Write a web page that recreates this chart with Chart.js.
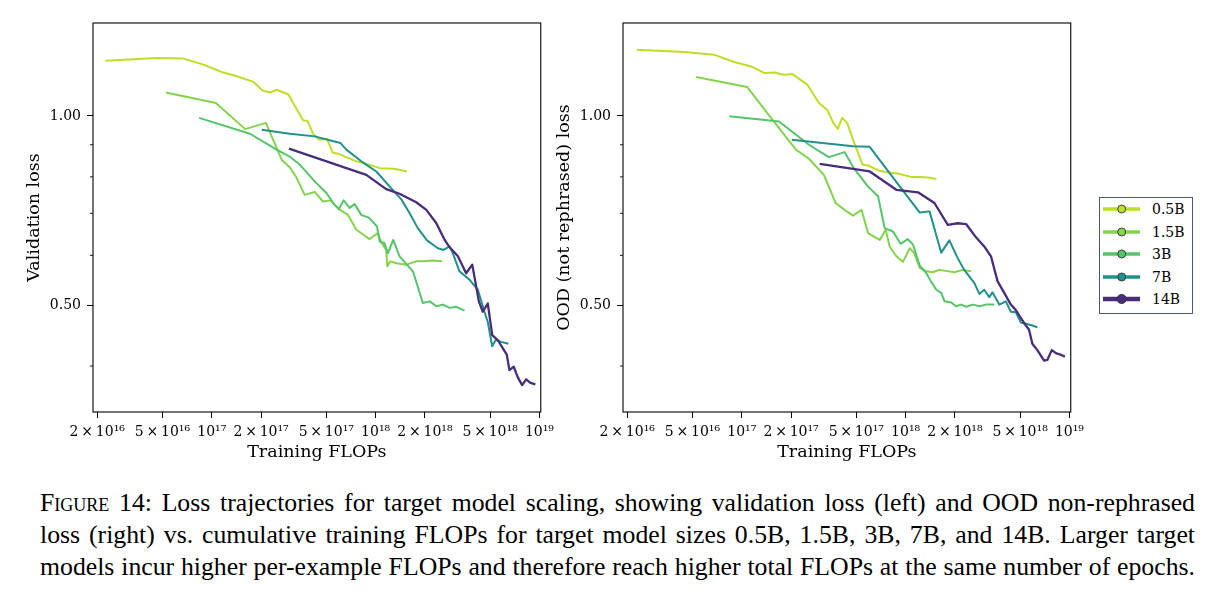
<!DOCTYPE html>
<html><head><meta charset="utf-8">
<script src="https://cdn.jsdelivr.net/npm/chart.js@4.4.1/dist/chart.umd.min.js"></script>
<style>
html,body{margin:0;padding:0;background:#fff;}
body{width:1219px;height:596px;position:relative;overflow:hidden;}
canvas{position:absolute;top:0;}
#c1{left:0;}
#c2{left:530px;}
#legend{position:absolute;left:1099px;top:197px;width:92px;height:115px;border:1px solid #4b5470;background:#fff;font-family:'DejaVu Serif';font-size:14px;color:#000;}
.row{position:absolute;left:0;width:92px;height:20px;}
.row svg{position:absolute;left:0;top:0;}
.row span{position:absolute;left:52px;top:0;line-height:20px;white-space:nowrap;}
#cap{position:absolute;left:40px;top:487px;width:1155px;font-family:'Liberation Serif';font-size:26.5px;line-height:32px;color:#000;}
.ln{text-align:justify;text-align-last:justify;white-space:nowrap;}
.sc{font-variant:small-caps;}
#probe{position:absolute;left:0;top:700px;font-family:'Liberation Serif';white-space:nowrap;visibility:hidden;}
</style></head><body>
<canvas id="c1" width="560" height="470"></canvas>
<canvas id="c2" width="560" height="470"></canvas>
<div id="legend"></div>
<div id="cap">
<div class="ln"><span class="sc">Figure</span> 14: Loss trajectories for target model scaling, showing validation loss (left) and OOD non-rephrased</div>
<div class="ln">loss (right) vs. cumulative training FLOPs for target model sizes 0.5B, 1.5B, 3B, 7B, and 14B. Larger target</div>
<div class="ln">models incur higher per-example FLOPs and therefore reach higher total FLOPs at the same number of epochs.</div>
</div>
<span id="probe"></span>
<script>
// ---- categories / series ----
const SERIES = ['0.5B', '1.5B', '3B', '7B', '14B'];
const COLORS = ['#bddf26', '#84d44b', '#54c568', '#21918c', '#472d7b'];

// ---- tick values / labels ----
const X_TICKS = [2e16, 5e16, 1e17, 2e17, 5e17, 1e18, 2e18, 5e18, 1e19];
const X_TICK_LABELS = ['2\u2009\u00d7\u200910\u00b9\u2076', '5\u2009\u00d7\u200910\u00b9\u2076', '10\u00b9\u2077', '2\u2009\u00d7\u200910\u00b9\u2077', '5\u2009\u00d7\u200910\u00b9\u2077', '10\u00b9\u2078', '2\u2009\u00d7\u200910\u00b9\u2078', '5\u2009\u00d7\u200910\u00b9\u2078', '10\u00b9\u2079'];
const Y_TICKS = [0.5, 1.0];
const Y_TICK_LABELS = ['0.50', '1.00'];
const Y_MINOR = [0.4, 0.6, 0.7, 0.8, 0.9];
const X_MIN = 1.884e16, X_MAX = 1.019e19;
const Y_MIN = 0.338, Y_MAX = 1.406;

// ---- Validation loss (left) ----
const v05F = [2.24e16, 4.62e16, 6.72e16, 8.90e16, 1.15e17, 1.36e17, 1.80e17, 2.04e17, 2.27e17, 2.49e17, 2.94e17, 3.22e17, 3.62e17, 3.83e17, 4.17e17, 4.51e17, 5.06e17, 5.46e17, 5.89e17, 7.63e17, 8.78e17, 1.06e18, 1.28e18, 1.40e18, 1.55e18];
const v05L = [1.224, 1.237, 1.234, 1.207, 1.175, 1.161, 1.133, 1.098, 1.090, 1.101, 1.082, 1.036, 0.984, 0.983, 0.936, 0.917, 0.919, 0.875, 0.871, 0.847, 0.839, 0.826, 0.824, 0.821, 0.816];
const v15F = [5.24e16, 1.06e17, 1.60e17, 2.14e17, 2.67e17, 2.99e17, 3.29e17, 3.69e17, 4.25e17, 4.77e17, 5.29e17, 5.97e17, 6.78e17, 7.63e17, 9.19e17, 1.03e18, 1.08e18, 1.16e18, 1.18e18, 1.23e18, 1.34e18, 1.54e18, 1.77e18, 1.94e18, 2.24e18, 2.55e18];
const v15L = [1.090, 1.049, 0.953, 0.975, 0.852, 0.829, 0.798, 0.749, 0.757, 0.731, 0.734, 0.711, 0.696, 0.659, 0.637, 0.651, 0.631, 0.612, 0.576, 0.587, 0.583, 0.580, 0.587, 0.587, 0.589, 0.587];
const v3F = [8.37e16, 1.71e17, 2.49e17, 2.99e17, 3.44e17, 4.25e17, 5.01e17, 5.62e17, 5.97e17, 6.38e17, 6.94e17, 7.45e17, 8.18e17, 9.10e17, 1.02e18, 1.06e18, 1.13e18, 1.19e18, 1.28e18, 1.40e18, 1.69e18, 1.81e18, 1.94e18, 2.14e18, 2.35e18, 2.57e18, 2.83e18, 3.11e18, 3.49e18];
const v3L = [0.993, 0.937, 0.884, 0.862, 0.837, 0.787, 0.754, 0.722, 0.711, 0.734, 0.714, 0.724, 0.696, 0.689, 0.667, 0.631, 0.628, 0.605, 0.635, 0.598, 0.566, 0.535, 0.504, 0.507, 0.498, 0.501, 0.495, 0.497, 0.490];
const v7F = [2.02e17, 2.99e17, 4.25e17, 6.09e17, 6.63e17, 8.18e17, 1.01e18, 1.22e18, 1.44e18, 1.61e18, 1.81e18, 2.06e18, 2.40e18, 2.60e18, 2.83e18, 2.96e18, 3.25e18, 3.74e18, 4.21e18, 4.62e18, 4.84e18, 5.15e18, 5.41e18, 5.84e18, 6.47e18];
const v7L = [0.951, 0.937, 0.928, 0.906, 0.884, 0.847, 0.816, 0.772, 0.736, 0.701, 0.663, 0.634, 0.616, 0.612, 0.620, 0.605, 0.566, 0.549, 0.529, 0.488, 0.470, 0.430, 0.440, 0.437, 0.434];
const v14F = [2.96e17, 8.78e17, 1.16e18, 1.40e18, 1.77e18, 2.04e18, 2.35e18, 2.64e18, 2.83e18, 3.18e18, 3.57e18, 3.89e18, 4.27e18, 4.51e18, 4.84e18, 5.15e18, 5.57e18, 5.97e18, 6.32e18, 6.56e18, 6.97e18, 7.37e18, 7.84e18, 8.30e18, 8.81e18, 9.45e18];
const v14L = [0.887, 0.806, 0.765, 0.752, 0.729, 0.709, 0.675, 0.635, 0.618, 0.598, 0.562, 0.580, 0.507, 0.488, 0.503, 0.448, 0.440, 0.427, 0.417, 0.394, 0.399, 0.384, 0.373, 0.381, 0.376, 0.374];

// ---- OOD (not rephrased) loss (right) ----
const o05F = [2.28e16, 4.47e16, 6.74e16, 9.00e16, 1.14e17, 1.37e17, 1.58e17, 1.81e17, 2.04e17, 2.51e17, 2.96e17, 3.32e17, 3.62e17, 3.86e17, 4.10e17, 4.40e17, 4.78e17, 5.13e17, 5.46e17, 5.90e17, 6.95e17, 7.81e17, 8.78e17, 1.08e18, 1.22e18, 1.37e18, 1.54e18];
const o05L = [1.275, 1.264, 1.252, 1.219, 1.199, 1.171, 1.173, 1.163, 1.166, 1.122, 1.049, 1.023, 0.975, 0.954, 0.993, 0.975, 0.917, 0.873, 0.837, 0.834, 0.818, 0.813, 0.811, 0.800, 0.800, 0.798, 0.794];
const o15F = [5.27e16, 1.08e17, 1.51e17, 2.14e17, 2.57e17, 3.17e17, 3.74e17, 4.30e17, 4.78e17, 5.38e17, 5.90e17, 6.95e17, 7.56e17, 7.99e17, 8.78e17, 9.63e17, 1.06e18, 1.13e18, 1.22e18, 1.34e18, 1.46e18, 1.61e18, 1.99e18, 2.23e18, 2.51e18];
const o15L = [1.154, 1.112, 0.993, 0.884, 0.855, 0.806, 0.727, 0.707, 0.694, 0.709, 0.651, 0.635, 0.659, 0.620, 0.598, 0.586, 0.616, 0.605, 0.573, 0.566, 0.564, 0.569, 0.564, 0.569, 0.566];
const o3F = [8.40e16, 1.69e17, 2.57e17, 3.40e17, 4.24e17, 4.83e17, 5.90e17, 6.79e17, 7.45e17, 8.37e17, 9.32e17, 1.03e18, 1.11e18, 1.22e18, 1.34e18, 1.43e18, 1.54e18, 1.65e18, 1.73e18, 1.90e18, 2.03e18, 2.18e18, 2.34e18, 2.57e18, 2.82e18, 3.09e18, 3.48e18];
const o3L = [0.999, 0.980, 0.900, 0.860, 0.876, 0.826, 0.772, 0.745, 0.663, 0.655, 0.626, 0.637, 0.624, 0.578, 0.562, 0.545, 0.529, 0.523, 0.507, 0.505, 0.498, 0.501, 0.497, 0.501, 0.498, 0.501, 0.501];
const o7F = [2.02e17, 4.78e17, 6.04e17, 7.99e17, 1.22e18, 1.40e18, 1.65e18, 1.85e18, 2.08e18, 2.28e18, 2.63e18, 2.82e18, 3.02e18, 3.24e18, 3.39e18, 3.73e18, 4.09e18, 4.39e18, 4.71e18, 5.05e18, 5.42e18, 5.94e18, 6.37e18];
const o7L = [0.917, 0.895, 0.893, 0.811, 0.702, 0.705, 0.606, 0.634, 0.594, 0.569, 0.542, 0.521, 0.529, 0.515, 0.524, 0.501, 0.507, 0.488, 0.487, 0.469, 0.467, 0.464, 0.461];
const o14F = [2.99e17, 6.04e17, 8.78e17, 1.19e18, 1.50e18, 1.81e18, 2.08e18, 2.34e18, 2.69e18, 3.02e18, 3.32e18, 3.64e18, 4.00e18, 4.39e18, 4.71e18, 5.05e18, 5.42e18, 5.67e18, 5.94e18, 6.37e18, 7.00e18, 7.33e18, 7.80e18, 8.32e18, 8.84e18, 9.39e18];
const o14L = [0.839, 0.816, 0.763, 0.756, 0.727, 0.671, 0.675, 0.673, 0.641, 0.620, 0.598, 0.546, 0.523, 0.501, 0.491, 0.477, 0.464, 0.457, 0.434, 0.424, 0.408, 0.409, 0.424, 0.419, 0.417, 0.414];

// ---- styles ----
const LINE_W = [2, 2, 2, 2, 2.3];
const FONT = 'DejaVu Serif';

const framePlugin = {
  id: 'frame',
  afterDraw(chart) {
    const {ctx, chartArea: a, scales: {y}} = chart;
    ctx.save();
    ctx.strokeStyle = '#000';
    ctx.lineWidth = 1.1;
    ctx.strokeRect(a.left, a.top, a.right - a.left, a.bottom - a.top);
    ctx.lineWidth = 0.9;
    Y_MINOR.forEach(v => {
      const py = y.getPixelForValue(v);
      ctx.beginPath();
      ctx.moveTo(a.left - 3, py);
      ctx.lineTo(a.left, py);
      ctx.stroke();
    });
    ctx.restore();
  }
};

function makeChart(id, yTitle, Fs, Ls) {
  const datasets = SERIES.map((name, i) => ({
    label: name,
    data: Fs[i].map((f, k) => ({x: f, y: Ls[i][k]})),
    borderColor: COLORS[i],
    backgroundColor: COLORS[i],
    borderWidth: LINE_W[i],
    pointRadius: 0,
    pointHoverRadius: 0,
    tension: 0,
    fill: false,
    borderJoinStyle: 'round',
    order: SERIES.length - 1 - i
  }));
  return new Chart(document.getElementById(id), {
    type: 'line',
    data: {datasets},
    options: {
      responsive: false,
      animation: false,
      events: [],
      layout: {padding: {top: 23, right: 18, left: 0, bottom: 0}},
      plugins: {legend: {display: false}, tooltip: {enabled: false}},
      scales: {
        x: {
          type: 'logarithmic', min: X_MIN, max: X_MAX, bounds: 'data',
          afterBuildTicks: s => { s.ticks = X_TICKS.map(v => ({value: v})); },
          afterFit: s => { s.height = 58; },
          ticks: {autoSkip: false, maxRotation: 0, minRotation: 0, padding: 6, color: '#000',
            font: {family: FONT, size: 14},
            callback: (v, i) => X_TICK_LABELS[i]},
          grid: {drawOnChartArea: false, drawTicks: true, tickLength: 6, tickColor: '#000', tickWidth: 1},
          border: {display: false},
          title: {display: true, text: 'Training FLOPs', color: '#000', font: {family: FONT, size: 17.5}, padding: {top: 0, bottom: 7.5}}
        },
        y: {
          type: 'logarithmic', min: Y_MIN, max: Y_MAX, bounds: 'data',
          afterBuildTicks: s => { s.ticks = Y_TICKS.map(v => ({value: v})); },
          afterFit: s => { s.width = 93; },
          ticks: {autoSkip: false, padding: 6, color: '#000',
            font: {family: FONT, size: 14},
            callback: (v, i) => Y_TICK_LABELS[i]},
          grid: {drawOnChartArea: false, drawTicks: true, tickLength: 6, tickColor: '#000', tickWidth: 1},
          border: {display: false},
          title: {display: true, text: yTitle, color: '#000', font: {family: FONT, size: 17.5}, padding: {top: 23.5, bottom: 0}}
        }
      }
    },
    plugins: [framePlugin]
  });
}

makeChart('c1', 'Validation loss', [v05F, v15F, v3F, v7F, v14F], [v05L, v15L, v3L, v7L, v14L]);
makeChart('c2', 'OOD (not rephrased) loss', [o05F, o15F, o3F, o7F, o14F], [o05L, o15L, o3L, o7L, o14L]);

// ---- legend ----
const LEG_LW = [3.3, 3.3, 3.3, 3.3, 4.3];
const LEG_R = [4, 4, 4, 4, 4.6];
const leg = document.getElementById('legend');
SERIES.forEach((name, i) => {
  const row = document.createElement('div');
  row.className = 'row';
  row.style.top = (1 + i * 22.6) + 'px';
  row.innerHTML =
    '<svg width="46" height="20"><line x1="3" y1="10" x2="40" y2="10" stroke="' + COLORS[i] +
    '" stroke-width="' + LEG_LW[i] + '"/><circle cx="21.7" cy="10" r="' + LEG_R[i] + '" fill="' + COLORS[i] +
    '" stroke="#333" stroke-width="0.9"/></svg><span>' + name + '</span>';
  leg.appendChild(row);
});

// ---- caption fit: shrink font only if a line would overflow ----
(function fitCaption() {
  const cap = document.getElementById('cap');
  const probe = document.getElementById('probe');
  const lines = Array.from(cap.querySelectorAll('.ln'));
  let size = 26.5;
  const widest = s => {
    probe.style.fontSize = s + 'px';
    let w = 0;
    lines.forEach(l => { probe.innerHTML = l.innerHTML; w = Math.max(w, probe.getBoundingClientRect().width); });
    return w;
  };
  while (size > 22 && widest(size) > 1150) size -= 0.25;
  cap.style.fontSize = size + 'px';
})();
</script>
</body></html>
